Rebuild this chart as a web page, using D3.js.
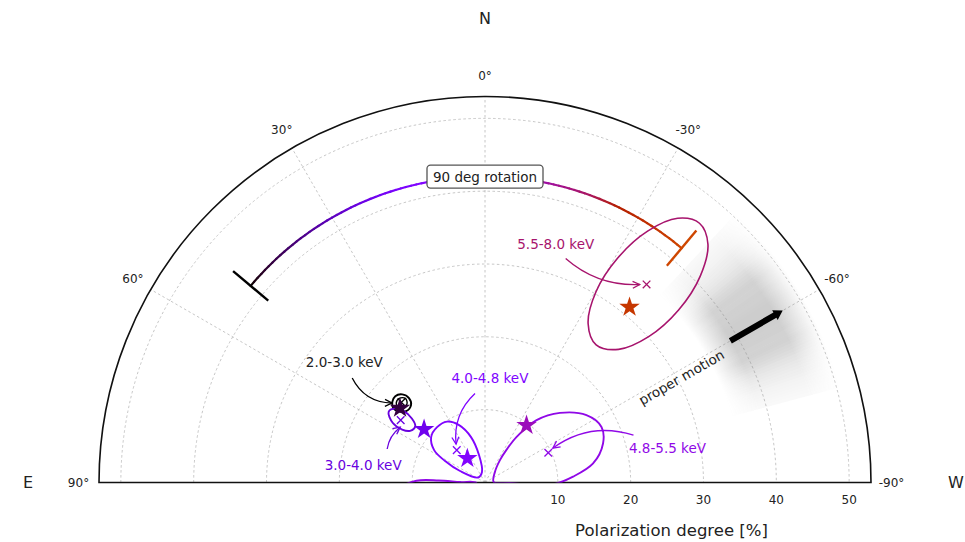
<!DOCTYPE html>
<html>
<head>
<meta charset="utf-8">
<script src="https://cdn.jsdelivr.net/npm/d3@7"></script>
<style>
  body { margin: 0; background: #fff; }
  text { font-family: "DejaVu Sans", sans-serif; }
</style>
</head>
<body>
<script>
// values: PA = polarization angle [deg, E of N], PD = polarization degree [%]
const bands = ['2.0-3.0 keV', '3.0-4.0 keV', '4.0-4.8 keV', '4.8-5.5 keV', '5.5-8.0 keV'];

// measured (x) and model (star) points
const measPA = [46.2, 53.5, 41.1, -64.8, -39.2];
const measPD = [15.9, 14.4, 5.9, 9.6, 35.1];
const starPA = [48.8, 48.9, 36.2, -36.0, -39.5];
const starPD = [15.5, 11.1, 4.1, 9.7, 31.2];

// confidence contours, [PA, PD] pairs
const contours = [
  [[49.1, 16.85], [46.1, 17.1], [43.2, 16.6], [42.0, 15.6], [43.7, 14.7], [47.9, 14.6], [50.6, 15.4], [51.0, 16.2]],
  [[53.8, 16.4], [50.5, 16.0], [48.7, 14.9], [48.8, 13.35], [51.1, 12.3], [55.4, 12.5], [57.4, 13.5], [57.1, 15.1]],
  [[31.9, 9.85], [40.9, 10.05], [49.9, 9.67], [57.5, 8.28], [61.7, 6.22], [65.3, 3.77], [54.5, 1.18], [16.0, 1.5], [12.3, 3.86], [17.1, 6.52], [24.3, 8.64]],
  [[-87.0, 1.2], [-42.8, 2.02], [-33.7, 3.7], [-33.3, 5.49], [-34.7, 7.63], [-39.6, 11.11], [-47.1, 14.04], [-56.4, 16.72], [-64.5, 17.72], [-71.7, 17.07], [-80.0, 15.07], [-86.2, 12.12], [-91.5, 9.4], [-92.5, 6.4], [-91.0, 3.4]],
  [[-39.6, 46.2], [-43.1, 44.8], [-46.2, 40.95], [-48.3, 35.6], [-48.3, 30.1], [-45.1, 25.9], [-38.9, 24.3], [-33.0, 26.0], [-30.2, 30.3], [-30.6, 35.8], [-32.9, 41.1], [-36.1, 44.9]]
];
const innerContour = [[48.2, 16.35], [45.5, 16.5], [43.4, 15.9], [44.8, 15.2], [47.7, 15.2], [49.05, 15.8]];

// annotation labels and arrows
const labelPA = [49.5, 81.8, -2.7, -79.3, -16.5];
const labelPD = [25.4, 16.9, 14.3, 25.5, 34.2];
const arrowFrom = [[51.8, 23.2], [71.1, 14.2], [6.4, 12.3], [-72.3, 21.4], [-19.8, 32.7]];
const arrowTo = [[49.5, 16.8], [56.9, 13.9], [37.0, 6.6], [-63.1, 10.45], [-38.0, 34.5]];
const arrowBend = [0.3, -0.2, 0.25, 0.25, 0.2];

// 90 deg rotation arc
const rotStartPA = 50, rotEndPA = -40, rotPD = 42;
// proper motion: direction, its spread, arrow extent and shaded band
const pmPA = -60, pmBandPA = -59, pmSigma = 7.5, pmSpan = 16;
const pmFromPD = 38.9, pmToPD = 47.2;
const pmBandPD = [35, 39, 46, 50.5];

// axes
const ringTicks = [10, 20, 30, 40, 50];
const spokeTicks = [60, 30, 0, -30, -60];
const angleTicks = [90, 60, 30, 0, -30, -60, -90];

// colours (gnuplot colormap positions)
const bandT = [0, 0.17, 0.25, 0.32, 0.43];
const starT = [0.04, 0.19, 0.26, 0.37, 0.6];
const rotFrac = [0, 0.45, 0.78, 1];
const rotT = [0, 0.27, 0.44, 0.65];
function gnuplot(t) {
  const b = Math.max(0, Math.sin(2 * Math.PI * t));
  return d3.rgb(Math.sqrt(t) * 255, t * t * t * 255, b * 255).formatHex();
}
const rotColor = d3.scaleLinear().domain(rotFrac).range(rotT);

const width = 965, height = 542;
const cx = 485, cy = 482.5;
const rMax = 53;
const r = d3.scaleLinear().domain([0, rMax]).range([0, 386]);
const rad = (d) => d * Math.PI / 180;
const pt = (pa, pd) => [cx - r(pd) * Math.sin(rad(pa)), cy - r(pd) * Math.cos(rad(pa))];

const svg = d3.select('body').append('svg')
  .attr('width', width)
  .attr('height', height);
const defs = svg.append('defs');

defs.append('clipPath').attr('id', 'upper')
  .append('rect').attr('x', -cx).attr('y', -cy).attr('width', width).attr('height', cy);

function semi(R) {
  const p = d3.path();
  p.moveTo(cx - R, cy);
  p.arc(cx, cy, R, Math.PI, 2 * Math.PI);
  return p.toString();
}

// grid
const grid = svg.append('g')
  .attr('fill', 'none')
  .attr('stroke', '#b8b8b8')
  .attr('stroke-width', 0.8)
  .attr('stroke-dasharray', '2.5,2.5');
ringTicks.forEach((v) => grid.append('path').attr('d', semi(r(v))));
spokeTicks.forEach((a) => {
  const [x2, y2] = pt(a, rMax);
  grid.append('line').attr('x1', cx).attr('y1', cy).attr('x2', x2).attr('y2', y2);
});

// proper motion shading: nested sectors build a gaussian fall-off in angle,
// a radial-gradient mask softens the inner and outer edges
const rg = defs.append('radialGradient').attr('id', 'pmRad')
  .attr('gradientUnits', 'userSpaceOnUse')
  .attr('cx', 0).attr('cy', 0).attr('r', r(pmBandPD[3]));
pmBandPD.forEach((v, i) => {
  rg.append('stop').attr('offset', r(v) / r(pmBandPD[3]))
    .attr('stop-color', i === 0 || i === 3 ? '#000' : '#fff');
});
defs.append('mask').attr('id', 'pmMask')
  .attr('maskUnits', 'userSpaceOnUse')
  .attr('x', -cx).attr('y', -cy).attr('width', width).attr('height', height)
  .append('rect').attr('x', -cx).attr('y', -cy).attr('width', width).attr('height', height)
  .attr('fill', 'url(#pmRad)');
const pmG = svg.append('g').attr('transform', `translate(${cx},${cy})`)
  .attr('mask', 'url(#pmMask)');
const nLayer = 32, peak = 0.47;
const trans = d3.range(nLayer + 2).map((j) => {
  if (j === 0 || j > nLayer) return 1;
  const w = pmSpan * (j - 0.5) / nLayer;
  return 1 - peak * Math.exp(-0.5 * (w / pmSigma) ** 2);
});
const pmArc = d3.arc().innerRadius(r(pmBandPD[0])).outerRadius(r(pmBandPD[3]));
d3.range(1, nLayer + 1).forEach((j) => {
  const w = pmSpan * j / nLayer;
  const alpha = 1 - trans[j] / trans[j + 1];
  pmG.append('path')
    .attr('d', pmArc.startAngle(rad(-(pmBandPA + w))).endAngle(rad(-(pmBandPA - w)))())
    .attr('fill', '#808080').attr('fill-opacity', alpha);
});

// frame
svg.append('path').attr('d', semi(r(rMax)) + 'Z')
  .attr('fill', 'none').attr('stroke', '#111').attr('stroke-width', 1.6);

// angle labels
angleTicks.forEach((a) => {
  const R = r.invert(r(rMax) + 20.5);
  const [x, y] = pt(a, R);
  svg.append('text').attr('x', x).attr('y', y)
    .attr('text-anchor', 'middle').attr('dominant-baseline', 'central')
    .attr('font-size', 12).attr('fill', '#222')
    .text(`${a}°`);
});
ringTicks.forEach((v) => {
  svg.append('text').attr('x', cx + r(v)).attr('y', cy + 17)
    .attr('text-anchor', 'middle').attr('dominant-baseline', 'central')
    .attr('font-size', 12).attr('fill', '#222')
    .text(v);
});
svg.append('text').attr('x', 671.5).attr('y', cy + 48)
  .attr('text-anchor', 'middle').attr('dominant-baseline', 'central')
  .attr('font-size', 16.5).attr('fill', '#222')
  .text('Polarization degree [%]');
[['N', cx, 18], ['E', 28, cy], ['W', 956, cy]].forEach(([t, x, y]) => {
  svg.append('text').attr('x', x).attr('y', y)
    .attr('text-anchor', 'middle').attr('dominant-baseline', 'central')
    .attr('font-size', 16).attr('fill', '#222').text(t);
});

// 90 deg rotation arc, coloured along its length
const rotG = svg.append('g').attr('fill', 'none').attr('stroke-linecap', 'round');
const nSeg = 90;
d3.range(nSeg).forEach((i) => {
  const a0 = rotStartPA + (rotEndPA - rotStartPA) * i / nSeg;
  const a1 = rotStartPA + (rotEndPA - rotStartPA) * (i + 1) / nSeg;
  const [x1, y1] = pt(a0, rotPD), [x2, y2] = pt(a1, rotPD);
  rotG.append('line').attr('x1', x1).attr('y1', y1).attr('x2', x2).attr('y2', y2)
    .attr('stroke', gnuplot(rotColor((i + 0.5) / nSeg))).attr('stroke-width', 2.2);
});
[[rotStartPA, 0], [rotEndPA, 1]].forEach(([a, f]) => {
  const [x1, y1] = pt(a, rotPD - 3.15), [x2, y2] = pt(a, rotPD + 3.15);
  rotG.append('line').attr('x1', x1).attr('y1', y1).attr('x2', x2).attr('y2', y2)
    .attr('stroke', gnuplot(rotColor(f))).attr('stroke-width', 2.4).attr('stroke-linecap', 'butt');
});
const [bx, by] = pt(0, rotPD);
rotG.append('rect').attr('x', bx - 58).attr('y', by - 11.5).attr('width', 116).attr('height', 23)
  .attr('rx', 3.5).attr('fill', '#fff').attr('stroke', '#555').attr('stroke-width', 1.3);
svg.append('text').attr('x', bx).attr('y', by)
  .attr('text-anchor', 'middle').attr('dominant-baseline', 'central')
  .attr('font-size', 13.5).attr('fill', '#222').text('90 deg rotation');

// contours
const radial = d3.lineRadial()
  .angle((d) => -rad(d[0]))
  .radius((d) => r(d[1]))
  .curve(d3.curveCatmullRomClosed.alpha(0.5));
const cg = svg.append('g').attr('transform', `translate(${cx},${cy})`)
  .attr('clip-path', 'url(#upper)')
  .attr('fill', 'none');
contours.forEach((c, i) => {
  cg.append('path').attr('d', radial(c))
    .attr('stroke', gnuplot(bandT[i])).attr('stroke-width', i === 4 ? 1.6 : 1.9);
});
// PA wraps at +-90: the part of 4.8-5.5 below the horizon shows up on the E side
cg.append('path').attr('d', radial(contours[3].map(([a, p]) => [a + 180, p])))
  .attr('stroke', gnuplot(bandT[3])).attr('stroke-width', 1.9);
cg.append('path').attr('d', radial(innerContour))
  .attr('stroke', gnuplot(bandT[0])).attr('stroke-width', 1.4);

// markers
bands.forEach((b, i) => {
  const col = gnuplot(bandT[i]);
  const [mx, my] = pt(measPA[i], measPD[i]);
  const s = 3.8;
  svg.append('path')
    .attr('d', `M${mx - s},${my - s}L${mx + s},${my + s}M${mx - s},${my + s}L${mx + s},${my - s}`)
    .attr('stroke', col).attr('stroke-width', 1.3);
  const [sx, sy] = pt(starPA[i], starPD[i]);
  svg.append('path').attr('transform', `translate(${sx},${sy})`)
    .attr('d', d3.symbol(d3.symbolStar, 130)())
    .attr('fill', gnuplot(starT[i]));
});

// annotations
bands.forEach((b, i) => {
  const col = gnuplot(bandT[i]);
  defs.append('marker').attr('id', `ah${i}`)
    .attr('viewBox', '-9 -6 11 12').attr('refX', 0).attr('refY', 0)
    .attr('markerWidth', 11).attr('markerHeight', 12)
    .attr('markerUnits', 'userSpaceOnUse').attr('orient', 'auto')
    .append('path').attr('d', 'M-7,-3.5L0,0L-7,3.5')
    .attr('fill', 'none').attr('stroke', col).attr('stroke-width', 1.3);
  const [x0, y0] = pt(...arrowFrom[i]);
  const [x1, y1] = pt(...arrowTo[i]);
  const dx = x1 - x0, dy = y1 - y0;
  const qx = (x0 + x1) / 2 - arrowBend[i] * dy;
  const qy = (y0 + y1) / 2 + arrowBend[i] * dx;
  svg.append('path').attr('d', `M${x0},${y0}Q${qx},${qy} ${x1},${y1}`)
    .attr('fill', 'none').attr('stroke', col).attr('stroke-width', 1.3)
    .attr('marker-end', `url(#ah${i})`);
  const [lx, ly] = pt(labelPA[i], labelPD[i]);
  svg.append('text').attr('x', lx).attr('y', ly)
    .attr('text-anchor', 'middle').attr('dominant-baseline', 'central')
    .attr('font-size', 13.5).attr('fill', i === 0 ? '#222' : col).text(b);
});

// proper motion arrow
const [px0, py0] = pt(pmPA, pmFromPD);
const [px1, py1] = pt(pmPA, pmToPD);
const ux = -Math.sin(rad(pmPA)), uy = -Math.cos(rad(pmPA));
const nx = -uy, ny = ux;
const hl = 9, hw = 5.5, sw = 3;
const hbx = px1 - ux * hl, hby = py1 - uy * hl;
svg.append('path')
  .attr('d', `M${px0 + nx * sw},${py0 + ny * sw}L${hbx + nx * sw},${hby + ny * sw}L${hbx + nx * hw},${hby + ny * hw}`
    + `L${px1},${py1}L${hbx - nx * hw},${hby - ny * hw}L${hbx - nx * sw},${hby - ny * sw}L${px0 - nx * sw},${py0 - ny * sw}Z`)
  .attr('fill', '#000');
const [tpx, tpy] = pt(-61.8, 30.6);
svg.append('text').attr('x', tpx).attr('y', tpy)
  .attr('transform', `rotate(${-(90 + pmPA)},${tpx},${tpy})`)
  .attr('text-anchor', 'middle').attr('dominant-baseline', 'central')
  .attr('font-size', 13.5).attr('fill', '#222').text('proper motion');
</script>
</body>
</html>
